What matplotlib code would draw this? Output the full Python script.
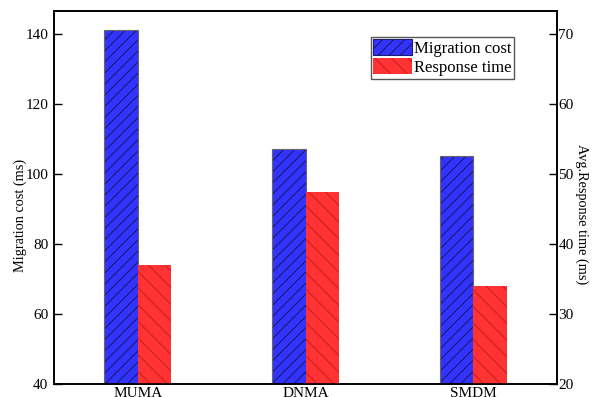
import numpy as np
import matplotlib.pyplot as plt
from matplotlib.patches import Patch

plt.rcParams['font.family'] = ['Liberation Serif', 'DejaVu Serif']
plt.rcParams['hatch.linewidth'] = 0.8

methods = ["MUMA", "DNMA", "SMDM"]
migration_cost = [141.2, 107.3, 105.3]   # ms, left axis
response_time = [37.0, 47.4, 34.0]       # ms, right axis

x = np.arange(1, len(methods) + 1)
width = 0.2

fig = plt.figure(figsize=(5.99, 3.97), dpi=100)
ax = fig.add_axes([54 / 599, 13 / 397, 503 / 599, 373 / 397])
ax2 = ax.twinx()

blue = "#3333ff"
red = "#ff3333"
blue_hatch = "///"
red_hatch = "\\\\"

ax.bar(x - width / 2, migration_cost, width, color=blue, edgecolor="#1a1a70",
       hatch=blue_hatch, linewidth=0, zorder=2)
ax.bar(x - width / 2, migration_cost, width, fill=False, edgecolor="#666666",
       linewidth=0.8, zorder=3)
ax2.bar(x + width / 2, response_time, width, color=red, edgecolor="#cc2020",
        hatch=red_hatch, linewidth=0, zorder=2)

ax.set_xlim(0.5, 3.5)
ax.set_ylim(40, 146.6)
ax2.set_ylim(20, 73.3)
ax.set_yticks([40, 60, 80, 100, 120, 140])
ax2.set_yticks([20, 30, 40, 50, 60, 70])
ax.set_xticks(x)
ax.set_xticklabels(methods)

ax.tick_params(axis='x', length=0, labelsize=11, pad=2)
ax.tick_params(axis='y', direction='in', length=6, width=1, labelsize=11, pad=4)
ax2.tick_params(axis='y', direction='in', length=6, width=1, labelsize=11, pad=1)

for a in (ax, ax2):
    for s in a.spines.values():
        s.set_linewidth(1.2)

# axis titles sit a bit below the vertical middle
fig.text(20 / 599, 1 - 215 / 397, "Migration cost (ms)", fontsize=10.3,
         rotation=90, ha='center', va='center')
fig.text(582 / 599, 1 - 214 / 397, "Avg.Response time (ms)", fontsize=10.3,
         rotation=270, ha='center', va='center')

handles = [Patch(facecolor=blue, edgecolor="#1a1a70", hatch=blue_hatch, linewidth=0.8),
           Patch(facecolor=red, edgecolor="#cc2020", hatch=red_hatch, linewidth=0)]
leg = ax2.legend(handles, ["Migration cost", "Response time"], loc="upper right",
                 bbox_to_anchor=(460 / 503, 1 - 26 / 373), fontsize=12, frameon=True,
                 fancybox=False, edgecolor="#555555", framealpha=1,
                 handlelength=2.3, handleheight=1.1, handletextpad=0.15,
                 labelspacing=0.08, borderpad=0.15, borderaxespad=0)
leg.get_frame().set_linewidth(1.0)

fig.savefig("out.png", dpi=100)
